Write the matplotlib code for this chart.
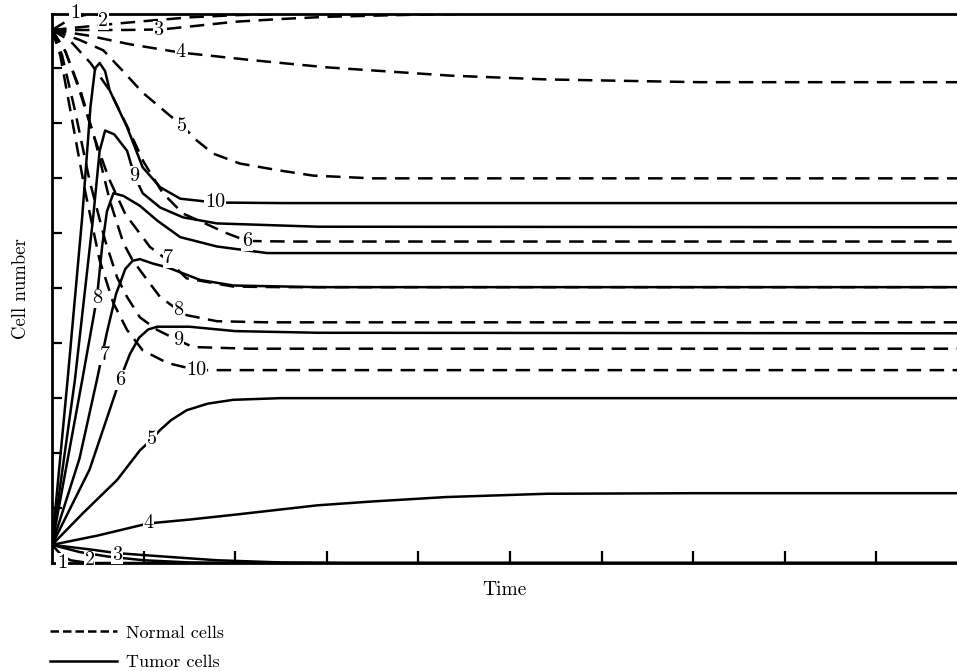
import matplotlib
matplotlib.use('Agg')
import matplotlib.pyplot as plt
from matplotlib.lines import Line2D

plt.rcParams['font.family'] = ['cmr10', 'DejaVu Serif']
plt.rcParams['axes.formatter.use_mathtext'] = True

# normal cells (dashed), (time, cell number)
normal_1 = [(0, 9.7), (0.1, 9.8), (0.2, 9.9), (0.35, 9.97), (0.6, 10.0), (9.9, 10.0)]
normal_2 = [(0, 9.7), (0.3, 9.75), (0.6, 9.8), (1.0, 9.86), (1.5, 9.93), (2.0, 9.97),
            (2.5, 9.99), (3.0, 10.0), (9.9, 10.0)]
normal_3 = [(0, 9.7), (0.4, 9.7), (0.8, 9.7), (1.2, 9.71), (1.6, 9.78), (2.0, 9.85),
            (2.5, 9.9), (3.0, 9.94), (4.0, 9.98), (5.0, 10.0), (9.9, 10.0)]
normal_4 = [(0, 9.7), (0.39, 9.6), (0.85, 9.44), (1.4, 9.29), (2.19, 9.15), (3.0, 9.02),
            (4.34, 8.87), (5.4, 8.8), (7.07, 8.75), (9.9, 8.75)]
normal_5 = [(0, 9.7), (0.3, 9.52), (0.56, 9.33), (0.77, 8.96), (0.99, 8.56), (1.26, 8.18),
            (1.42, 7.96), (1.58, 7.69), (1.76, 7.45), (2.05, 7.27), (2.46, 7.15),
            (2.85, 7.05), (3.5, 7.0), (9.9, 7.0)]
normal_6 = [(0, 9.7), (0.2, 9.5), (0.42, 9.1), (0.63, 8.6), (0.82, 7.95), (1.0, 7.3),
            (1.21, 6.73), (1.43, 6.36), (1.91, 6.0), (2.13, 5.86), (2.6, 5.85), (9.9, 5.85)]
normal_7 = [(0, 9.7), (0.15, 9.3), (0.3, 8.6), (0.45, 7.8), (0.62, 7.0), (0.8, 6.35),
            (1.07, 5.75), (1.27, 5.5), (1.47, 5.18), (1.98, 5.03), (2.5, 5.02), (9.9, 5.02)]
normal_8 = [(0, 9.7), (0.14, 9.33), (0.31, 8.6), (0.47, 7.7), (0.63, 6.6), (0.78, 5.82),
            (0.88, 5.51), (1.04, 5.15), (1.18, 4.84), (1.38, 4.6), (1.47, 4.51),
            (1.8, 4.4), (2.35, 4.38), (9.9, 4.38)]
normal_9 = [(0, 9.7), (0.11, 9.24), (0.25, 8.24), (0.41, 6.96), (0.58, 5.87), (0.71, 5.2),
            (0.82, 4.84), (0.96, 4.47), (1.15, 4.24), (1.38, 4.05), (1.54, 3.93),
            (2.16, 3.9), (9.9, 3.9)]
normal_10 = [(0, 9.7), (0.09, 9.24), (0.2, 8.24), (0.36, 6.78), (0.52, 5.51), (0.67, 4.73),
             (0.82, 4.24), (0.99, 3.87), (1.26, 3.64), (1.58, 3.51), (2.0, 3.51), (9.9, 3.51)]

# tumor cells (solid)
tumor_1 = [(0, 0.33), (0.1, 0.15), (0.2, 0.05), (0.4, 0.0), (9.9, 0.0)]
tumor_2 = [(0, 0.33), (0.3, 0.2), (0.6, 0.12), (1.0, 0.05), (1.5, 0.01), (2.0, 0.0), (9.9, 0.0)]
tumor_3 = [(0, 0.33), (0.4, 0.25), (0.71, 0.18), (1.2, 0.12), (1.8, 0.05), (2.5, 0.01),
           (3.2, 0.0), (9.9, 0.0)]
tumor_4 = [(0, 0.33), (0.5, 0.5), (1.05, 0.72), (1.5, 0.79), (2.0, 0.88), (2.9, 1.05),
           (3.5, 1.12), (4.3, 1.2), (5.4, 1.26), (7.0, 1.27), (9.9, 1.27)]
tumor_5 = [(0, 0.33), (0.34, 0.91), (0.71, 1.51), (0.96, 2.05), (1.09, 2.25), (1.18, 2.42),
           (1.3, 2.6), (1.47, 2.78), (1.7, 2.9), (1.98, 2.97), (2.5, 3.0), (9.9, 3.0)]
tumor_6 = [(0, 0.33), (0.41, 1.7), (0.74, 3.33), (0.85, 3.8), (0.95, 4.1), (1.05, 4.25),
           (1.15, 4.3), (1.5, 4.3), (2.0, 4.22), (2.9, 4.19), (9.9, 4.18)]
tumor_7 = [(0, 0.33), (0.3, 1.9), (0.49, 3.33), (0.6, 4.2), (0.7, 4.9), (0.8, 5.35),
           (0.88, 5.5), (0.96, 5.53), (1.1, 5.45), (1.26, 5.38), (1.62, 5.15),
           (1.98, 5.05), (2.9, 5.02), (9.9, 5.02)]
tumor_8 = [(0, 0.33), (0.33, 3.33), (0.49, 4.82), (0.55, 5.8), (0.6, 6.4), (0.67, 6.73),
           (0.78, 6.68), (0.96, 6.5), (1.15, 6.23), (1.4, 5.93), (1.8, 5.76),
           (2.35, 5.64), (9.9, 5.64)]
tumor_9 = [(0, 0.33), (0.25, 3.33), (0.45, 6.3), (0.52, 7.5), (0.58, 7.87), (0.68, 7.8),
           (0.82, 7.5), (0.9, 7.05), (0.99, 6.73), (1.18, 6.47), (1.43, 6.29),
           (1.8, 6.18), (2.9, 6.12), (9.9, 6.11)]
tumor_10 = [(0, 0.33), (0.17, 3.33), (0.33, 6.3), (0.42, 8.3), (0.47, 9.0), (0.52, 9.1),
            (0.58, 8.95), (0.63, 8.6), (0.82, 7.93), (0.99, 7.2), (1.18, 6.84),
            (1.4, 6.63), (1.78, 6.56), (2.5, 6.55), (9.9, 6.55)]

normal_curves = [normal_1, normal_2, normal_3, normal_4, normal_5,
                 normal_6, normal_7, normal_8, normal_9, normal_10]
tumor_curves = [tumor_1, tumor_2, tumor_3, tumor_4, tumor_5,
                tumor_6, tumor_7, tumor_8, tumor_9, tumor_10]

# where each curve number is written
normal_label_at = [(0.25, 10.0), (0.56, 9.87), (1.16, 9.69), (1.4, 9.29), (1.42, 7.96),
                   (2.13, 5.86), (1.27, 5.55), (1.38, 4.6), (1.38, 4.05), (1.58, 3.51)]
tumor_label_at = [(0.11, 0.0), (0.41, 0.05), (0.71, 0.15), (1.05, 0.73), (1.09, 2.25),
                  (0.74, 3.33), (0.58, 3.78), (0.49, 4.82), (0.9, 7.05), (1.78, 6.56)]

fig = plt.figure(figsize=(9.57, 6.71), dpi=100)
ax = fig.add_axes([52 / 957, 1 - 563 / 671, 1 - 52 / 957, (563 - 13.5) / 671])

lw = 1.8
for curve in normal_curves:
    t, n = zip(*curve)
    ax.plot(t, n, color='black', lw=lw, dashes=(5.8, 3.4), solid_capstyle='butt')
for curve in tumor_curves:
    t, n = zip(*curve)
    ax.plot(t, n, color='black', lw=lw)

lbl_box = dict(facecolor='white', edgecolor='none', pad=0.5)
for i, (x, y) in enumerate(normal_label_at):
    ax.text(x, y, str(i + 1), fontsize=14.5, ha='center', va='center',
            bbox=lbl_box, zorder=4, clip_on=False)
for i, (x, y) in enumerate(tumor_label_at):
    ax.text(x, y, str(i + 1), fontsize=14.5, ha='center', va='center',
            bbox=lbl_box, zorder=4, clip_on=False)

ax.set_xlim(0, 9.88)
ax.set_ylim(0, 10)
ax.set_xticks(range(1, 10))
ax.set_yticks(range(1, 10))
ax.tick_params(direction='in', labelbottom=False, labelleft=False, width=1.6)
ax.tick_params(axis='x', length=9)
ax.tick_params(axis='y', length=7)
ax.spines['right'].set_visible(False)
for s in ('left', 'bottom', 'top'):
    ax.spines[s].set_linewidth(2.0)

ax.set_xlabel('Time', fontsize=14, labelpad=13)
ax.set_ylabel('Cell number', fontsize=13.5, labelpad=16)

handles = [Line2D([], [], color='black', lw=lw, dashes=(3.4, 1.6)),
           Line2D([], [], color='black', lw=lw)]
fig.legend(handles, ['Normal cells', 'Tumor cells'], loc='upper left',
           bbox_to_anchor=(50 / 957, 1 - 625 / 671), frameon=False,
           fontsize=13, handlelength=3.7, handletextpad=0.5, labelspacing=0.75,
           borderpad=0, borderaxespad=0)

fig.savefig('out.png', dpi=100)
